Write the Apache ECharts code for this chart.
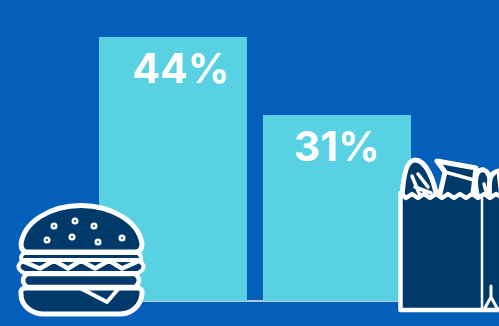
<!DOCTYPE html>
<html>
<head>
<meta charset="utf-8">
<style>html,body{margin:0;padding:0;background:#035FB9}#c{width:499px;height:326px}</style>
<script src="https://cdn.jsdelivr.net/npm/echarts@6/dist/echarts.min.js"></script>
</head>
<body>
<div id="c"></div>
<script>
const categories = ['Fast food', 'Groceries'];
const shares = [44, 31];

const NAVY = '#003A6B', WHITE = '#FFFFFF';
const line = (w) => ({ fill: null, stroke: WHITE, lineWidth: w, lineJoin: 'round', lineCap: 'round' });
const solid = (w) => ({ fill: NAVY, stroke: WHITE, lineWidth: w, lineJoin: 'round', lineCap: 'round' });

// Each outline becomes a registered shape class so the graphic component can place it
let shapeCount = 0;
const path = (d, style) => {
  const name = 'iconPath' + (shapeCount++);
  echarts.graphic.registerShape(name, echarts.graphic.extendPath(d, {}));
  return { type: name, z: 10, style };
};

// Burger icon, built from its stacked layers
const seeds = [[54,226],[75,221],[94,226],[47,240],[72,237],[98,242],[122,238]];
const burger = [
  path('M28 252 Q21 252 21 244 C24 222 50 205.500 81 205.500 C112 205.500 139 222 142 244 Q142 252 135 252 Z', solid(5)),
  path('M24 253 Q18 258 24 262 L138 262 Q144 258 138 253 Z', solid(4)),
  path('M24 260 Q13 267 24 273 L138 273 Q149 267 138 260 Z', solid(4)),
  path('M22 261 L40 268.500 L54 260.500 L68 268.500 L81 260.500 L95 268.500 L109 260.500 L122 268.500 L141 260', line(4.500)),
  path('M27 274 Q19 280 27 287 L135 287 Q143 280 135 274 Z', solid(4.500)),
  path('M26 288 L137 288 Q143 288 142 294 C141 306 131 314 120 314 L44 314 C32 314 21 306 21 294 Q20 288 26 288 Z', solid(5)),
  path('M80 288 L107 302 L119 288', line(4))
].concat(seeds.map(([x, y]) => ({
  type: 'circle', z: 11, shape: { cx: x, cy: y, r: 2.300 },
  style: { fill: NAVY, stroke: WHITE, lineWidth: 2.400 }
})));

// Grocery bag icon, with the goods sticking out of the top
const bag = [
  path('M402 198 C403 178 406 160 415 160 C426 160 434 180 437 198 Z', solid(5)),
  path('M418 174 L428 187 M415 187 L431 193 M412 176 L421 198', line(3.500)),
  path('M445 172 L437 161 L476 168 L473 193 L470 198 L439 198 Z', solid(5)),
  path('M445 172 L474 180 M445 172 L439 198', line(3.500)),
  path('M478 198 C473 180 476 168 484 170 C490 172 492 184 490 198 Z', solid(5)),
  path('M490 198 C488 180 490 172 499 171 L502 198 Z', solid(5)),
  path('M484 184 L488 198', line(3.500)),
  path('M400.500 193 L406 198 L412 194 L418 198 L424 194 L430 198 L436 194 L442 198 L448 194 L454 198 L460 194 L466 198 L472 194 L478 198 L484 194 L490 198 L496 194 L503 198 L503 310 L400.500 310 Z', solid(4.500)),
  path('M482 198 L482 310', line(2.500)),
  path('M491 286 L491 297 L485 308 M491 297 L497 308', line(3))
];

const chart = echarts.init(document.getElementById('c'));
chart.setOption({
  backgroundColor: '#035FB9',
  animation: false,
  grid: { left: 91, width: 328, top: 37, height: 264 },
  xAxis: {
    type: 'category',
    data: categories,
    axisLine: { lineStyle: { color: '#B8C8D2', width: 2 } },
    axisTick: { show: false },
    axisLabel: { show: false }
  },
  yAxis: { type: 'value', min: 0, max: 44, show: false, splitLine: { show: false } },
  series: [{
    type: 'bar',
    data: shares.map((v, i) => ({
      value: v,
      label: { offset: i === 0 ? [8, 0] : [0, 0] }
    })),
    barWidth: 148,
    itemStyle: { color: '#58D2E3' },
    label: {
      show: true,
      position: 'insideTop',
      distance: 13,
      formatter: '{c}%',
      color: WHITE,
      fontFamily: 'Inter',
      fontWeight: 700,
      fontSize: 41
    }
  }],
  graphic: { elements: burger.concat(bag) }
});
</script>
</body>
</html>
